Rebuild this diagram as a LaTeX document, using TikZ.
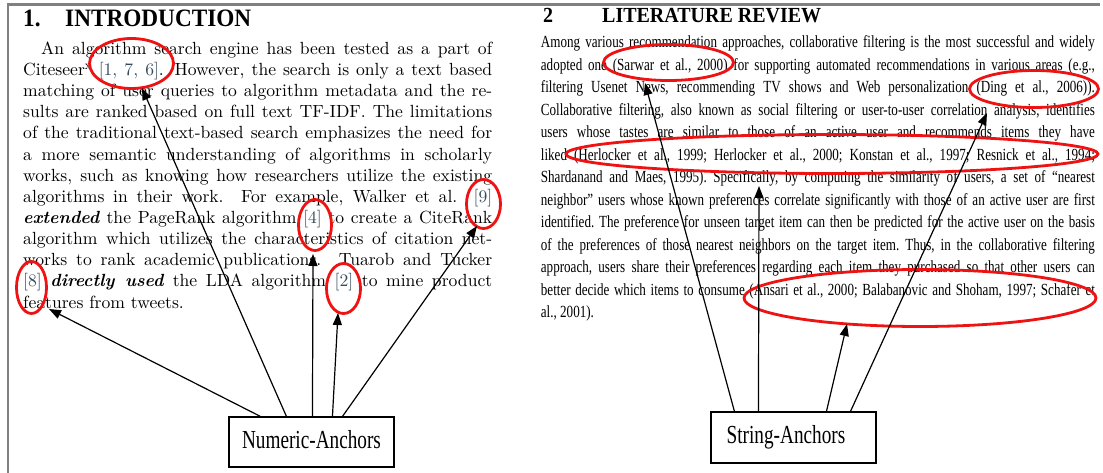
\documentclass[tikz,border=0pt]{standalone}
\usepackage{fontspec}
\usetikzlibrary{arrows.meta,shapes.geometric}
\setmainfont{lmroman10-regular}[Extension=.otf,
  BoldFont=lmroman10-bold, ItalicFont=lmroman10-italic,
  BoldItalicFont=lmroman10-bolditalic]
\newfontfamily\headfont[FakeStretch=0.93]{Liberation Serif}
\newfontfamily\revfont[FakeStretch=0.77]{Liberation Serif}
\newfontfamily\tagfont[FakeStretch=0.74]{Liberation Serif}
\definecolor{framegray}{RGB}{128,128,128}
\definecolor{citeblue}{RGB}{55,75,90}
\definecolor{ringred}{RGB}{238,18,18}
\newcommand\citemark[1]{{\color{citeblue}[#1]}}

\begin{document}
\begin{tikzpicture}[x=1pt,y=-1pt,
  ring/.style={draw=ringred, line width=2.8pt, ellipse, inner sep=0pt},
  tagbox/.style={draw=black, line width=1.1pt, rectangle, inner sep=0pt,
    font=\tagfont\fontsize{26}{30}\selectfont, text height=17pt, text depth=5pt},
  pointer/.style={line width=1.2pt, -{Triangle[length=12pt,width=9pt]}},
  heading/.style={anchor=base west, inner sep=0pt},
  body/.style={anchor=base west, inner sep=0pt, align=justify},
]
\useasboundingbox (0,0) rectangle (1103,473);
\fill[white] (0,0) rectangle (1103,473);

% page frame
\draw[framegray, line width=2.5pt] (8,473) -- (8,4.5) -- (1100,4.5);

% ---- left column: introduction ----
\node[heading, font=\headfont\bfseries\fontsize{25}{30}\selectfont] (h1) at (23,26.7)
  {1.\hspace{24.6pt}INTRODUCTION};

\node[body, text width=469pt, font=\fontsize{17.6}{21.15}\selectfont] (intro) at (23,54.3) {%
\tolerance=10000\hspace*{18pt}An algorithm search engine has been tested as a part of\linebreak
Citeseer\textsuperscript{x} \citemark{1, 7, 6}. However, the search is only a text based\linebreak
matching of user queries to algorithm metadata and the re-\linebreak
sults are ranked based on full text TF-IDF. The limitations\linebreak
of the traditional text-based search emphasizes the need for\linebreak
a more semantic understanding of algorithms in scholarly\linebreak
works, such as knowing how researchers utilize the existing\linebreak
algorithms in their work.\ \ For example, Walker et al. \citemark{9}\linebreak
\textbf{\textit{extended}} the PageRank algorithm \citemark{4} to create a CiteRank\linebreak
algorithm which utilizes the characteristics of citation net-\linebreak
works to rank academic publications.\ \ Tuarob and Tucker\linebreak
\citemark{8} \textbf{\textit{directly used}} the LDA algorithm \citemark{2} to mine product\linebreak
features from tweets.};

% highlighted numeric citations
\node[ring, minimum width=84, minimum height=50] (e176) at (131.5,63.5) {};
\node[ring, minimum width=34, minimum height=49] (e9) at (483.5,204) {};
\node[ring, minimum width=33, minimum height=51] (e4) at (315,225) {};
\node[ring, minimum width=34, minimum height=50] (e2) at (343.5,288.5) {};
\node[ring, minimum width=30, minimum height=52] (e8) at (31.5,287.5) {};

\node[tagbox, minimum width=165, minimum height=50] (num) at (311.5,442) {Numeric-Anchors};

\coordinate (t8) at (49,309);
\coordinate (t176) at (142,88);
\coordinate (t4) at (313,254);
\coordinate (t2) at (338,313);
\coordinate (t9) at (477,226);

\draw[pointer] ([xshift=32pt]num.north west) -- (t8);
\draw[pointer] ([xshift=58pt]num.north west) -- (t176);
\draw[pointer] ([xshift=84pt]num.north west) -- (t4);
\draw[pointer] ([xshift=104pt]num.north west) -- (t2);
\draw[pointer] ([xshift=114pt]num.north west) -- (t9);

% ---- right column: literature review ----
\node[heading, font=\headfont\bfseries\fontsize{21.5}{26}\selectfont] (h2) at (543,22.7)
  {2\hspace{49pt}LITERATURE REVIEW};

\node[body, text width=554pt, font=\revfont\fontsize{17}{22.5}\selectfont] (review) at (540.7,48) {%
\tolerance=10000\frenchspacing Among various recommendation approaches, collaborative filtering is the most successful and widely\linebreak
adopted one (Sarwar et al., 2000) for supporting automated recommendations in various areas (e.g.,\linebreak
filtering Usenet News, recommending TV shows and Web personalization (Ding et al., 2006)).\linebreak
Collaborative filtering, also known as social filtering or user-to-user correlation analysis, identifies\linebreak
users whose tastes are similar to those of an active user and recommends items they have\linebreak
liked (Herlocker et al., 1999; Herlocker et al., 2000; Konstan et al., 1997; Resnick et al., 1994;\linebreak
Shardanand and Maes, 1995). Specifically, by computing the similarity of users, a set of “nearest\linebreak
neighbor” users whose known preferences correlate significantly with those of an active user are first\linebreak
identified. The preference for unseen target item can then be predicted for the active user on the basis\linebreak
of the preferences of those nearest neighbors on the target item. Thus, in the collaborative filtering\linebreak
approach, users share their preferences regarding each item they purchased so that other users can\linebreak
better decide which items to consume (Ansari et al., 2000; Balabanovic and Shoham, 1997; Schafer et\linebreak
al., 2001).};

% highlighted author-year citations
\node[ring, minimum width=130, minimum height=36] (esar) at (668.5,62.5) {};
\node[ring, minimum width=129, minimum height=37] (eding) at (1034,89) {};
\node[ring, minimum width=532, minimum height=39] (eher) at (832,154) {};
\node[ring, minimum width=352, minimum height=57] (eans) at (920,298) {};

\node[tagbox, minimum width=165, minimum height=51] (str) at (793.5,437.5) {String-Anchors\hspace*{15pt}};

\coordinate (tsar) at (645,83);
\coordinate (ther) at (759,186);
\coordinate (tans) at (847,324);
\coordinate (tding) at (987,113);

\draw[pointer] ([xshift=24pt]str.north west) -- (tsar);
\draw[pointer] ([xshift=48pt]str.north west) -- (ther);
\draw[pointer] ([xshift=116pt]str.north west) -- (tans);
\draw[pointer] ([xshift=140pt]str.north west) -- (tding);
\end{tikzpicture}
\end{document}
